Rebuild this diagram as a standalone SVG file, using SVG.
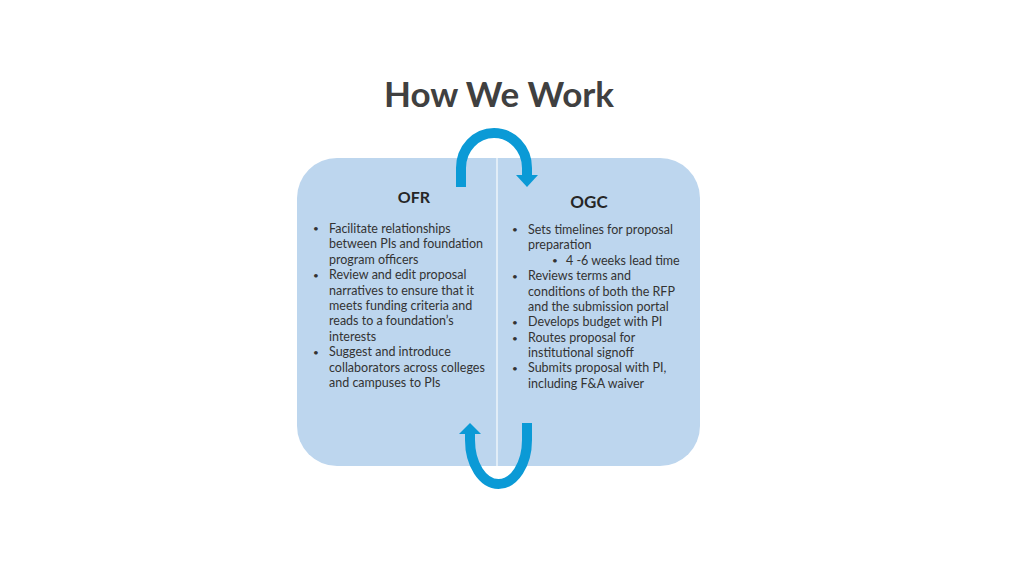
<svg xmlns="http://www.w3.org/2000/svg" width="1024" height="576" viewBox="0 0 1024 576">
<style>
.t{font-family:Lato,"Open Sans","Liberation Sans",sans-serif;fill:#333;font-size:12.5px}
.b{font-size:10px}
.h{font-family:Lato,"Open Sans","Liberation Sans",sans-serif;fill:#262626;font-weight:bold}
.arc{fill:none;stroke:#0b9ad6;stroke-width:10}
.head{fill:#0b9ad6}
</style>
<rect width="1024" height="576" fill="#fff"/>
<text x="499" y="107" text-anchor="middle" class="h" style="font-size:35px;fill:#404040">How We Work</text>
<g id="panel">
<rect x="297" y="158" width="403" height="308" rx="40" fill="#bdd6ee"/>
<line x1="497" y1="158" x2="497" y2="466" stroke="#eef4fa" stroke-width="1.5"/>
</g>
<g id="ofr">
<text x="414" y="203" text-anchor="middle" class="h" style="font-size:16px">OFR</text>
<g class="t">
<text x="313" y="232" class="b">•</text><text x="329" y="233">Facilitate relationships</text>
<text x="329" y="248">between PIs and foundation</text>
<text x="329" y="264">program officers</text>
<text x="313" y="279" class="b">•</text><text x="329" y="279">Review and edit proposal</text>
<text x="329" y="295">narratives to ensure that it</text>
<text x="329" y="310">meets funding criteria and</text>
<text x="329" y="325">reads to a foundation’s</text>
<text x="329" y="341">interests</text>
<text x="313" y="356" class="b">•</text><text x="329" y="356">Suggest and introduce</text>
<text x="329" y="372">collaborators across colleges</text>
<text x="329" y="387">and campuses to PIs</text>
</g>
</g>
<g id="ogc">
<text x="589" y="208" text-anchor="middle" class="h" style="font-size:17px">OGC</text>
<g class="t">
<text x="512" y="233" class="b">•</text><text x="528" y="234">Sets timelines for proposal</text>
<text x="528" y="249">preparation</text>
<text x="552" y="264" class="b">•</text><text x="566" y="265">4 -6 weeks lead time</text>
<text x="512" y="280" class="b">•</text><text x="528" y="280">Reviews terms and</text>
<text x="528" y="296">conditions of both the RFP</text>
<text x="528" y="311">and the submission portal</text>
<text x="512" y="326" class="b">•</text><text x="528" y="326">Develops budget with PI</text>
<text x="512" y="342" class="b">•</text><text x="528" y="342">Routes proposal for</text>
<text x="528" y="357">institutional signoff</text>
<text x="512" y="372" class="b">•</text><text x="528" y="372">Submits proposal with PI,</text>
<text x="528" y="388">including F&amp;A waiver</text>
</g>
</g>
<g id="connectors">
<path class="arc" d="M461,187 L461,168 A33,35 0 0 1 527,168 L527,176"/>
<polygon class="head" points="516,175 538,175 527,187"/>
<path class="arc" d="M470,432 L470,440 A28.5,44 0 0 0 527,440 L527,423"/>
<polygon class="head" points="459,434 481,434 470,423"/>
</g>
</svg>
